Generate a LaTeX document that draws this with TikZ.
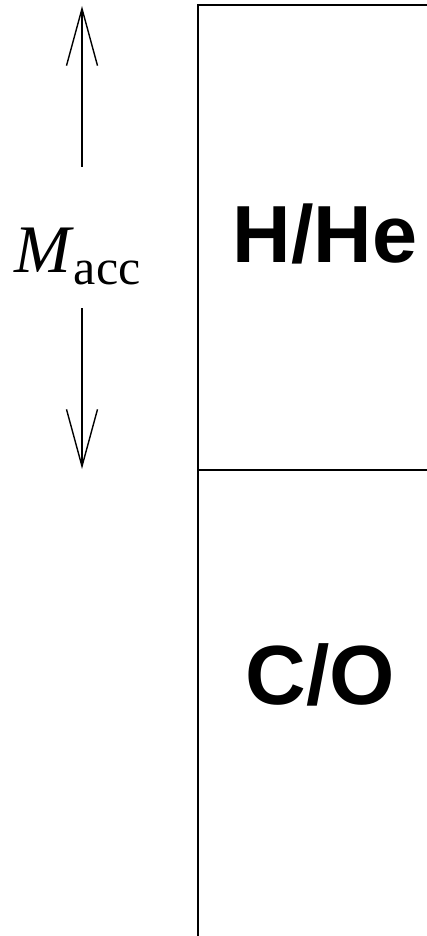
\documentclass[tikz,border=0pt]{standalone}
\usepackage{fontspec}
\setmainfont{Liberation Serif}
\newfontfamily\labelfont{Liberation Sans}
\usetikzlibrary{arrows.meta}
\tikzset{
  layerlabel/.style={inner sep=0pt, anchor=base, font=\labelfont\bfseries\fontsize{84}{84}\selectfont},
  wall/.style={line width=1.8pt, black},
  accarrow/.style={line width=1.4pt, -{Straight Barb[length=57pt,width=31pt,line width=1.4pt]}}
}
\begin{document}
\begin{tikzpicture}[x=1pt,y=-1pt]
\useasboundingbox (0,0) rectangle (427,936);
% star layers
\draw[wall] (427,5) -- (198,5) -- (198,936);
\draw[wall] (198,470) -- (427,470);
\node[layerlabel, font=\labelfont\bfseries\fontsize{81}{81}\selectfont] (hhe) at (325,262) {H/He};
\node[layerlabel] (co) at (320.5,704) {C/O};
% accreted mass label
\node[inner sep=0pt, anchor=base west] (macc) at (14,272)
  {\fontsize{68}{68}\selectfont\textit{M}\raisebox{-12pt}{\fontsize{50}{50}\selectfont acc}};
\coordinate (ut) at (82,6);
\coordinate (us) at (82,167);
\coordinate (ds) at (82,308);
\coordinate (dt) at (82,469);
\draw[accarrow] (us) -- (ut);
\draw[accarrow] (ds) -- (dt);
\end{tikzpicture}
\end{document}
